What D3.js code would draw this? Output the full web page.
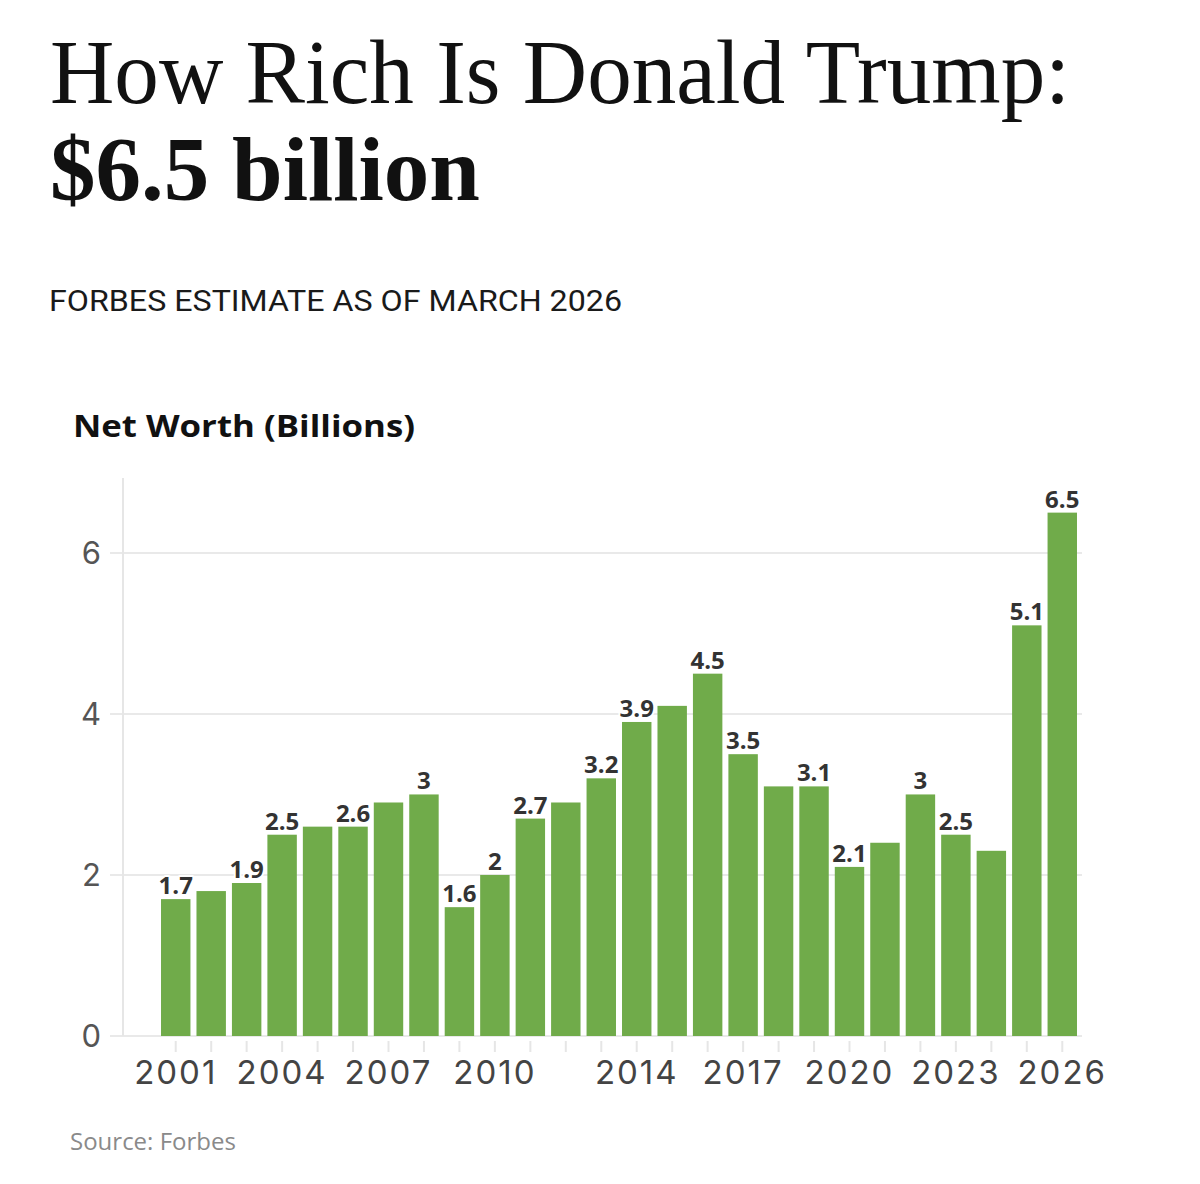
<!DOCTYPE html>
<html lang="en">
<head>
<meta charset="UTF-8">
<title>How Rich Is Donald Trump</title>
<script src="https://cdn.jsdelivr.net/npm/d3@7"></script>
<style>
    html, body { margin: 0; padding: 0; background: #fff; }
    svg { display: block; }
</style>
</head>
<body>
<div id="chart"></div>
<script>
// data
var years = ["2001","2002","2003","2004","2005","2006","2007","2008","2009","2010",
             "2011","2012","2013","2014","2015","2016","2017","2018","2019","2020",
             "2021","2022","2023","2024","2025","2026"];
var netWorth = [1.7, 1.8, 1.9, 2.5, 2.6, 2.6, 2.9, 3, 1.6, 2,
                2.7, 2.9, 3.2, 3.9, 4.1, 4.5, 3.5, 3.1, 3.1, 2.1,
                2.4, 3, 2.5, 2.3, 5.1, 6.5];
// which bars carry a value label
var labelled = ["2001","2003","2004","2006","2008","2009","2010","2011","2013","2014",
                "2016","2017","2019","2020","2022","2023","2025","2026"];
var xTickLabels = ["2001","2004","2007","2010","2014","2017","2020","2023","2026"];
var yTicks = [0, 2, 4, 6];

var W = 1200, H = 1184;
var svg = d3.select('#chart').append('svg')
    .attr('width', W)
    .attr('height', H);

// fit a text element to a given width
function fit(sel, w) {
    sel.attr('textLength', w).attr('lengthAdjust', 'spacingAndGlyphs');
}

// titles
svg.append('text')
    .attr('x', 50).attr('y', 103)
    .attr('font-family', '"Liberation Serif", serif')
    .attr('font-size', 92)
    .attr('fill', '#111')
    .text('How Rich Is Donald Trump:')
    .call(fit, 1020);

svg.append('text')
    .attr('x', 50).attr('y', 200)
    .attr('font-family', '"Liberation Serif", serif')
    .attr('font-weight', 'bold')
    .attr('font-size', 92)
    .attr('fill', '#111')
    .text('$6.5 billion')
    .call(fit, 430);

svg.append('text')
    .attr('x', 49).attr('y', 311)
    .attr('font-family', 'Roboto, sans-serif')
    .attr('font-size', 29)
    .attr('fill', '#1a1a1a')
    .text('FORBES ESTIMATE AS OF MARCH 2026')
    .call(fit, 573);

svg.append('text')
    .attr('x', 73).attr('y', 437)
    .attr('font-family', '"Open Sans", sans-serif')
    .attr('font-weight', 'bold')
    .attr('font-size', 31)
    .attr('fill', '#111')
    .text('Net Worth (Billions)')
    .call(fit, 342);

// scales
var x = d3.scaleBand()
    .domain(years)
    .range([158, 1080])
    .paddingInner(0.17)
    .paddingOuter(0.085);

var y = d3.scaleLinear()
    .domain([0, 6.93])
    .range([1036, 478]);

// gridlines
svg.append('g')
    .selectAll('line')
    .data(yTicks)
    .join('line')
    .attr('x1', 110)
    .attr('x2', 1082)
    .attr('y1', d => y(d))
    .attr('y2', d => y(d))
    .attr('stroke', '#e9e9e9')
    .attr('stroke-width', 2);

// left axis line
svg.append('line')
    .attr('x1', 123).attr('x2', 123)
    .attr('y1', y(6.93)).attr('y2', y(0))
    .attr('stroke', '#e6e6e6')
    .attr('stroke-width', 2);

// y tick labels
svg.append('g')
    .selectAll('text')
    .data(yTicks)
    .join('text')
    .attr('x', 101)
    .attr('y', d => y(d))
    .attr('dy', '0.36em')
    .attr('text-anchor', 'end')
    .attr('font-family', 'Inter, "Open Sans", sans-serif')
    .attr('font-size', 31)
    .attr('fill', '#555')
    .text(d => d);

// x ticks under each bar
svg.append('g')
    .selectAll('line')
    .data(years)
    .join('line')
    .attr('x1', d => x(d) + x.bandwidth() / 2)
    .attr('x2', d => x(d) + x.bandwidth() / 2)
    .attr('y1', 1041)
    .attr('y2', 1052)
    .attr('stroke', '#e6e6e6')
    .attr('stroke-width', 2);

// x tick labels
svg.append('g')
    .selectAll('text')
    .data(xTickLabels)
    .join('text')
    .attr('x', d => x(d) + x.bandwidth() / 2)
    .attr('y', 1084)
    .attr('text-anchor', 'middle')
    .attr('font-family', 'Inter, "Open Sans", sans-serif')
    .attr('font-size', 33)
    .attr('letter-spacing', 2)
    .attr('fill', '#444')
    .text(d => d);

// bars
svg.append('g')
    .selectAll('rect')
    .data(years)
    .join('rect')
    .attr('x', d => x(d))
    .attr('width', x.bandwidth())
    .attr('y', (d, i) => y(netWorth[i]))
    .attr('height', (d, i) => y(0) - y(netWorth[i]))
    .attr('fill', '#70ab4a');

// value labels with a white halo
svg.append('g')
    .selectAll('text')
    .data(years.filter(d => labelled.indexOf(d) >= 0))
    .join('text')
    .attr('x', d => x(d) + x.bandwidth() / 2)
    .attr('y', d => y(netWorth[years.indexOf(d)]) - 5)
    .attr('text-anchor', 'middle')
    .attr('font-family', '"Open Sans", sans-serif')
    .attr('font-weight', 'bold')
    .attr('font-size', 24)
    .attr('fill', '#333')
    .attr('stroke', '#fff')
    .attr('stroke-width', 4)
    .attr('stroke-linejoin', 'round')
    .attr('paint-order', 'stroke')
    .text(d => netWorth[years.indexOf(d)]);

// source
svg.append('text')
    .attr('x', 70).attr('y', 1150)
    .attr('font-family', '"Open Sans", sans-serif')
    .attr('font-size', 24)
    .attr('fill', '#8a8a8a')
    .text('Source: Forbes');
</script>
</body>
</html>
